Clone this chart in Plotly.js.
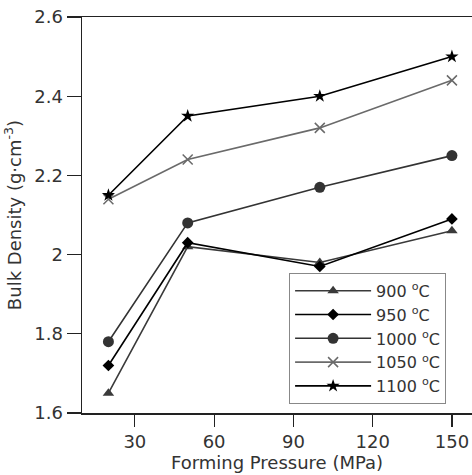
<!DOCTYPE html>
<html>
<head>
<meta charset="utf-8">
<script src="https://cdn.plot.ly/plotly-3.0.1.min.js"></script>
<style>html,body{margin:0;padding:0;background:#fff;}#chart{width:472px;height:475px;}</style>
</head>
<body>
<div id="chart"></div>
<script>
const pressure = [20, 50, 100, 150];
const seriesNames = ['900 <sup>o</sup>C', '950 <sup>o</sup>C', '1000 <sup>o</sup>C', '1050 <sup>o</sup>C', '1100 <sup>o</sup>C'];
const d900  = [1.65, 2.02, 1.98, 2.06];
const d950  = [1.72, 2.03, 1.97, 2.09];
const d1000 = [1.78, 2.08, 2.17, 2.25];
const d1050 = [2.14, 2.24, 2.32, 2.44];
const d1100 = [2.15, 2.35, 2.40, 2.50];
const xTicks = [30, 60, 90, 120, 150];
const yTicks = [1.6, 1.8, 2.0, 2.2, 2.4, 2.6];
const yTickText = ['1.6', '1.8', '2', '2.2', '2.4', '2.6'];

const styles = [
  {color: '#3a3a3a', symbol: 'triangle-up', size: 10},
  {color: '#000000', symbol: 'diamond', size: 9},
  {color: '#333333', symbol: 'circle', size: 11},
  {color: '#6a6a6a', symbol: 'x-thin-open', size: 10},
  {color: '#000000', symbol: 'star', size: 10}
];
const series = [d900, d950, d1000, d1050, d1100];

const traces = series.map((ys, i) => ({
  x: pressure, y: ys, name: seriesNames[i],
  type: 'scatter', mode: 'lines+markers',
  line: {color: styles[i].color, width: 1.6},
  marker: {color: styles[i].color, symbol: styles[i].symbol, size: styles[i].size,
           line: {color: styles[i].color, width: styles[i].symbol === 'x-thin-open' ? 1.5 : 0}}
}));

const fam = 'DejaVu Sans, Verdana, sans-serif';
const font = {family: fam, size: 18, color: '#333'};
const layout = {
  width: 472, height: 475,
  margin: {l: 82, r: 0, t: 17, b: 62},
  paper_bgcolor: '#fff', plot_bgcolor: '#fff',
  font: font,
  showlegend: true,
  legend: {x: 0.531, y: 0.354, xanchor: 'left', yanchor: 'top',
           bordercolor: '#888', borderwidth: 1, bgcolor: '#fff',
           font: {family: fam, size: 16, color: '#333'},
           itemwidth: 76, tracegroupgap: 0},
  xaxis: {
    range: [10, 157.6], tickvals: xTicks, ticks: 'outside', ticklen: 12, tickwidth: 1.2,
    tickcolor: '#222', showline: true, linecolor: '#222', linewidth: 1.5, mirror: true,
    showgrid: false, zeroline: false, tickfont: font,
    title: {text: 'Forming Pressure (MPa)', font: font, standoff: 2}
  },
  yaxis: {
    range: [1.6, 2.6], tickvals: yTicks, ticktext: yTickText, ticks: 'outside', ticklen: 14, tickwidth: 1.2,
    tickcolor: '#222', showline: true, linecolor: '#222', linewidth: 1.5,
    showgrid: false, zeroline: false, tickfont: font,
    title: {text: 'Bulk Density (g·cm<sup>-3</sup>)', font: font, standoff: 8}
  }
};
Plotly.newPlot('chart', traces, layout, {displayModeBar: false, staticPlot: true});
</script>
</body>
</html>
